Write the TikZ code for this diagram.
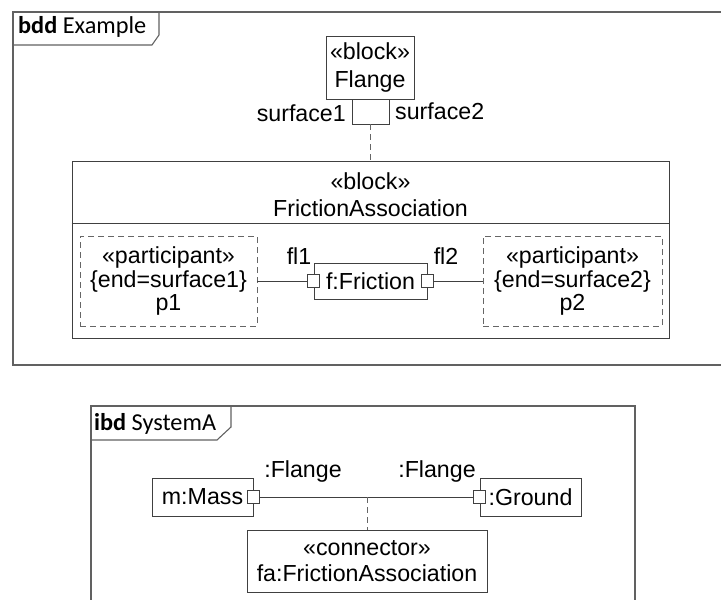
\documentclass[tikz,border=0pt]{standalone}
\usepackage{fontspec}
\setmainfont{Liberation Sans}
\newfontfamily\calibri{Carlito}
\begin{document}
\begin{tikzpicture}[x=1pt,y=-1pt,
  line/.style={draw=black!75, line width=0.9pt},
  frame/.style={draw=black!62, line width=1.1pt},
  dashline/.style={draw=black!60, line width=0.9pt, dash pattern=on 6pt off 4pt},
  txt/.style={font=\fontsize{23.2}{27}\selectfont, inner sep=0pt, align=center},
  blockbox/.style={line, rectangle, inner sep=0pt, align=center, font=\fontsize{23.2}{28.5}\selectfont},
  partbox/.style={draw=black!60, line width=0.9pt, dash pattern=on 6pt off 4pt, rectangle, inner sep=0pt, align=center, font=\fontsize{23.2}{23.5}\selectfont},
  portbox/.style={line, fill=white, minimum width=12pt, minimum height=13pt, inner sep=0pt},
  tabtxt/.style={font=\calibri\fontsize{24.3}{28}\selectfont, anchor=base west, inner sep=0pt}]
\useasboundingbox (0,0) rectangle (721,600);
\clip (0,0) rectangle (721,600);
% ---------- bdd frame ----------
\draw[frame] (13,12) rectangle (740,365);
\draw[frame] (13,45) -- (152,45) -- (159,35) -- (159,12);
\node[tabtxt] (bddlbl) at (18,33) {\textbf{bdd} Example};
% Flange
\node[blockbox, minimum width=88pt, minimum height=63pt] (flange) at (370,67.5) {«block»\\Flange};
\node[line, minimum width=37pt, minimum height=25pt, inner sep=0pt] (fport) at (370.5,111.5) {};
\node[txt, anchor=base east] (s1) at (346,121) {surface1};
\node[txt, anchor=base west] (s2) at (395,119) {surface2};
% FrictionAssociation
\node[line, minimum width=597pt, minimum height=177pt, inner sep=0pt] (fa) at (370.5,249.5) {};
\draw[dashline] (fport.south) -- (fport.south |- fa.north);
\draw[line] ([yshift=-63pt]fa.north west) -- ([yshift=-63pt]fa.north east);
\node[txt] (fatitle) at (370.5,195) {«block»\\FrictionAssociation};
\node[partbox, minimum width=177pt, minimum height=90pt] (p1) at (168.5,281) {«participant»\\\{end=surface1\}\\p1};
\node[partbox, minimum width=179pt, minimum height=90pt] (p2) at (572.5,281) {«participant»\\\{end=surface2\}\\p2};
\node[blockbox, minimum width=113pt, minimum height=36pt] (fric) at (370.5,281) {f:Friction};
\node[portbox] (lp) at (fric.west) {};
\node[portbox] (rp) at (fric.east) {};
\draw[line] (p1.east) -- (lp.west);
\draw[line] (rp.east) -- (p2.west);
\node[txt, anchor=base] (fl1) at (299,264) {fl1};
\node[txt, anchor=base] (fl2) at (446,264) {fl2};
% ---------- ibd frame ----------
\draw[frame] (91,406) rectangle (635,640);
\draw[frame] (91,440) -- (217,440) -- (231,427) -- (231,406);
\node[tabtxt] (ibdlbl) at (94,430) {\textbf{ibd} SystemA};
\node[blockbox, minimum width=101pt, minimum height=38pt] (mass) at (202.5,497) {m:Mass};
\node[blockbox, minimum width=101pt, minimum height=38pt] (ground) at (530.5,497) {:Ground};
\node[portbox] (mp) at (mass.east) {};
\node[portbox] (gp) at (ground.west) {};
\draw[line] (mp.east) -- (gp.west);
\node[txt, anchor=base] (fl3) at (303,477) {:Flange};
\node[txt, anchor=base] (fl4) at (437,477) {:Flange};
\node[blockbox, minimum width=240pt, minimum height=62pt, font=\fontsize{23.2}{25.5}\selectfont] (conn) at (367,561) {«connector»\\fa:FrictionAssociation};
\draw[dashline] (conn.north |- mp.center) -- (conn.north);
\end{tikzpicture}
\end{document}
